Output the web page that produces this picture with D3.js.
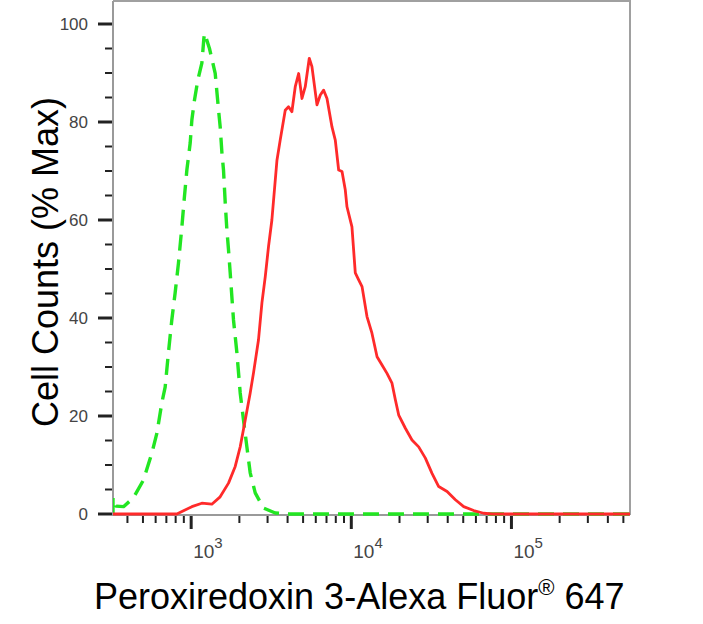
<!DOCTYPE html>
<html>
<head>
  <meta content="text/html;charset=utf-8" http-equiv="Content-Type">
  <title>Peroxiredoxin 3 flow histogram</title>

  <style type="text/css">
    body { margin: 0; background: #fff; }
    #hist .tick-label { fill: #444; font: 17px "Liberation Sans", Arial, sans-serif; }
    #hist .title { fill: #000; font: 36px "Liberation Sans", Arial, sans-serif; }
  </style>

  <script src="https://cdnjs.cloudflare.com/ajax/libs/d3/7.8.5/d3.min.js"></script>
  <script>

    // isotype control (green dashed): fluorescence intensity, % of max
    var control_x = [325, 325, 340, 378, 436, 503, 568, 611, 656, 688, 721, 757, 794, 833, 875, 904, 940, 986,
                     1010, 1049, 1101, 1166, 1200, 1211, 1230, 1301, 1413, 1483, 1518, 1556, 1592, 1632, 1671,
                     1711, 1753, 1838, 1930, 2024, 2122, 2228, 2337, 2512, 2831, 3350, 4000, 550000];
    var control_y = [0, 3.4, 1.6, 1.5, 3.3, 6.9, 12.4, 16.5, 22.7, 25.9, 32.9, 39.6, 45.1, 51.2, 58.6, 64.1, 70.2, 75.7,
                     80.4, 84.5, 88.6, 92, 97, 98.1, 97.5, 95, 89.9, 82.4, 79, 73.7, 70.2, 63.5, 58,
                     53.9, 49.2, 39.6, 32.9, 24.7, 19.2, 13.7, 8.4, 4.3, 1.2, 0.2, 0, 0];

    // Peroxiredoxin 3 stained sample (red)
    var sample_x = [325, 814, 1010, 1166, 1346, 1517, 1711, 1884, 2024, 2176, 2337, 2451, 2632, 2766, 2901, 3042,
                    3192, 3434, 3597, 3868, 4055, 4256, 4467, 4689, 4920, 5158, 5464, 5678, 6105, 6402, 6720,
                    7050, 7574, 7943, 8337, 8750, 9173, 9397, 10093, 10590, 11118, 11670, 12530, 13455, 14480,
                    15550, 16710, 17950, 18840, 19770, 21760, 23930, 26350, 29010, 31920, 35140, 39640, 44670,
                    50330, 58100, 67100, 75700, 550000];
    var sample_y = [0, 0, 1.5, 2.2, 2.0, 3.5, 6.3, 9.7, 13.7, 19.2, 24.7, 28.8, 35.5, 43.1, 48.4, 54.6,
                    60, 72.2, 76.3, 82.4, 83.1, 82.1, 87.2, 89.9, 84.8, 87.2, 93, 91.3, 83.5, 85.5, 86.5,
                    84.8, 79, 76.3, 70.2, 69.9, 66.1, 62.7, 58.6, 49.2, 47.8, 46.4, 40.3, 36.9, 32.1,
                    30.4, 28.7, 26.7, 23.3, 20.2, 17.5, 15.1, 13.7, 11.4, 8.3, 5.6, 4.6, 2.9,
                    1.5, 0.7, 0.15, 0, 0];

    var x_domain = [325, 550000];
    var x_major = [1000, 10000, 100000];
    var x_major_exp = ["3", "4", "5"];
    var y_ticks = [0, 20, 40, 60, 80, 100];

    var x_title = "Peroxiredoxin 3-Alexa Fluor";
    var y_title = "Cell Counts (% Max)";

    function main() {

      var left = 113, right = 630, top = 1, bottom = 515;

      var svg = d3.select('#hist').
            attr('width', 703).
            attr('height', 624);

      var x = d3.scaleLog().
            domain(x_domain).
            range([left, right]);

      var y = d3.scaleLinear().
            domain([0, 100]).
            range([514, 24]);

      svg.append('clipPath').attr('id', 'plot-clip').
        append('rect').
          attr('x', left).attr('y', top).
          attr('width', right - left).attr('height', bottom - top + 1);

      // frame
      svg.append('path').
        attr('d', 'M' + left + ',' + top + 'H' + right + 'V' + bottom).
        attr('fill', 'none').
        attr('stroke', '#a0a0a0').
        attr('stroke-width', 2);

      // y ticks (minor every 5, major every 20)
      var y_minor = d3.range(0, 101, 5);
      svg.selectAll('line.ytick').
          data(y_minor).
        enter().append('line').
          attr('class', 'ytick').
          attr('x1', function(d) { return d % 20 === 0 ? left - 15 : left - 8; }).
          attr('x2', left).
          attr('y1', y).
          attr('y2', y).
          attr('stroke', '#222').
          attr('stroke-width', function(d) { return d % 20 === 0 ? 3 : 2; });

      svg.selectAll('text.ylab').
          data(y_ticks).
        enter().append('text').
          attr('class', 'tick-label ylab').
          attr('x', left - 25).
          attr('y', y).
          attr('dy', '0.36em').
          attr('text-anchor', 'end').
          text(function(d) { return d; });

      // x ticks from the log scale
      var ticks = x.ticks();
      svg.selectAll('line.xtick').
          data(ticks).
        enter().append('line').
          attr('class', 'xtick').
          attr('x1', x).
          attr('x2', x).
          attr('y1', bottom).
          attr('y2', function(d) { return x_major.indexOf(d) >= 0 ? bottom + 14 : bottom + 8; }).
          attr('stroke', '#222').
          attr('stroke-width', function(d) { return x_major.indexOf(d) >= 0 ? 3 : 2; });

      var xl = svg.selectAll('text.xlab').
          data(x_major).
        enter().append('text').
          attr('class', 'tick-label xlab').
          attr('x', function(d) { return x(d) + 2; }).
          attr('y', 558).
          style('font-size', '19px');
      xl.append('tspan').text('10');
      xl.append('tspan').
          attr('dy', -10).
          style('font-size', '15px').
          text(function(d, i) { return x_major_exp[i]; });

      // axis lines
      svg.append('path').
        attr('d', 'M' + left + ',' + top + 'V' + bottom + 'H' + right).
        attr('fill', 'none').
        attr('stroke', '#9a9a9a').
        attr('stroke-width', 2);

      var line = d3.line().
            x(function(d) { return x(d[0]); }).
            y(function(d) { return y(d[1]); }).
            curve(d3.curveLinear);

      var g = svg.append('g').attr('clip-path', 'url(#plot-clip)');

      g.append('path').
        datum(d3.zip(control_x, control_y)).
        attr('d', line).
        attr('fill', 'none').
        attr('stroke', '#22e622').
        attr('stroke-width', 3.4).
        attr('stroke-dasharray', '16,9').
        attr('stroke-linejoin', 'round');

      g.append('path').
        datum(d3.zip(sample_x, sample_y)).
        attr('d', line).
        attr('fill', 'none').
        attr('stroke', '#ff2a2a').
        attr('stroke-width', 2.8).
        attr('stroke-linejoin', 'round');

      // titles
      svg.append('text').
        attr('class', 'title').
        attr('transform', 'translate(58,262) rotate(-90)').
        attr('text-anchor', 'middle').
        text(y_title);

      var xt = svg.append('text').
        attr('class', 'title').
        attr('x', 94).
        attr('y', 609);
      xt.append('tspan').text(x_title);
      xt.append('tspan').attr('dy', -14).style('font-size', '22px').text('\u00AE');
      xt.append('tspan').attr('dy', 14).text(' 647');
    }

  </script>
</head>
<body onload='main()'>

  <svg id="hist"></svg>

</body>
</html>
